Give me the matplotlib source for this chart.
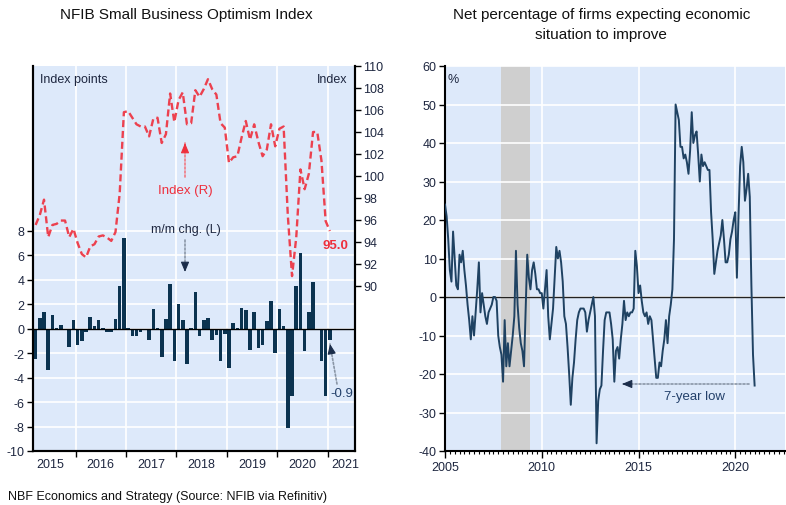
import matplotlib
matplotlib.use("Agg")
import matplotlib.pyplot as plt
import numpy as np

plt.rcParams['font.family'] = ['Liberation Sans', 'DejaVu Sans']

# ---------------- Left chart data (Mar 2015 - Jan 2021, monthly) ----------------
idx_start_year, idx_start_month = 2015, 3
index_vals = [
    95.55, 96.45, 97.85, 94.45, 95.55, 95.65, 95.95, 95.95, 94.45, 95.2,             # 2015 Mar-Dec
    93.9, 92.9, 92.6, 93.6, 93.8, 94.5, 94.6, 94.4, 94.1, 94.9, 98.4, 105.8,         # 2016
    105.9, 105.3, 104.7, 104.5, 104.5, 103.6, 105.2, 105.3, 103.0, 103.8, 107.5, 104.9,  # 2017
    106.9, 107.6, 104.7, 104.8, 107.8, 107.2, 107.9, 108.8, 107.9, 107.4, 104.8, 104.4,  # 2018
    101.2, 101.7, 101.8, 103.5, 105.0, 103.3, 104.7, 103.1, 101.8, 102.4, 104.7, 102.7,  # 2019
    104.3, 104.5, 96.4, 90.9, 94.4, 100.6, 98.8, 100.2, 104.0, 104.0, 101.4, 95.9,      # 2020
    95.0,                                                                              # 2021 Jan
]
mm_change = [
    -2.45, 0.9, 1.4, -3.4, 1.1, 0.1, 0.3, 0.0, -1.5, 0.75,
    -1.3, -1.0, -0.3, 1.0, 0.2, 0.7, 0.1, -0.3, -0.3, 0.8, 3.5, 7.4,
    0.1, -0.6, -0.6, -0.3, 0.0, -0.9, 1.6, 0.1, -2.3, 0.8, 3.7, -2.6,
    2.0, 0.7, -2.9, 0.1, 3.0, -0.6, 0.7, 0.9, -0.9, -0.5, -2.6, -0.4,
    -3.2, 0.5, 0.1, 1.7, 1.5, -1.7, 1.4, -1.6, -1.3, 0.6, 2.3, -2.0,
    1.6, 0.2, -8.1, -5.5, 3.5, 6.2, -1.8, 1.4, 3.8, 0.0, -2.6, -5.5,
    -0.9,
]
left_years = [2015, 2016, 2017, 2018, 2019, 2020, 2021]
left_yticks = [-10, -8, -6, -4, -2, 0, 2, 4, 6, 8]
right_yticks = [90, 92, 94, 96, 98, 100, 102, 104, 106, 108, 110]

# ---------------- Right chart data (Jan 2005 - Jan 2021, monthly) ----------------
exp_start_year = 2005
expect_vals = [
    24, 21, 15, 7, 4, 17, 10, 3, 2, 11, 9, 12,            # 2005
    7, 3, -2, -6, -11, -5, -10, -4, 2, 9, -4, 1,          # 2006
    -2, -5, -7, -4, -3, -2, 0, 0, -1, -10, -13, -15,      # 2007
    -22, -6, -18, -12, -18, -14, -10, -5, 12, -2, -8, -12,  # 2008
    -14, -18, -3, 11, 5, 2, 7, 9, 6, 2, 2, 1,             # 2009
    1, -3, 2, 7, -5, -11, -7, -3, 5, 13, 10, 12,          # 2010
    9, 4, -5, -7, -13, -20, -28, -21, -17, -11, -6, -4,   # 2011
    -3, -3, -3, -4, -9, -6, -4, -2, 0, -5, -38, -27,      # 2012
    -24, -23, -14, -6, -4, -4, -4, -7, -11, -22, -14, -13,  # 2013
    -16, -11, -7, -1, -6, -4, -5, -4, -4, -3, 12, 8,      # 2014
    1, 3, -1, -4, -5, -4, -7, -5, -6, -11, -16, -21,      # 2015
    -21, -17, -18, -14, -11, -6, -12, -5, -2, 2, 15, 50,  # 2016
    48, 46, 39, 39, 36, 37, 35, 32, 38, 48, 40, 42,       # 2017
    43, 37, 30, 37, 34, 35, 34, 33, 33, 22, 15, 6,        # 2018
    9, 12, 14, 16, 20, 15, 9, 9, 11, 15, 17, 20,          # 2019
    22, 5, 21, 34, 39, 35, 25, 28, 32, 26, 3, -15,        # 2020
    -23,                                                  # 2021 Jan
]
recession = (2007 + 11/12, 2009 + 5/12)
exp_xticks = [2005, 2010, 2015, 2020]
exp_yticks = [-40, -30, -20, -10, 0, 10, 20, 30, 40, 50, 60]

# ---------------- styling ----------------
W, H = 786, 506
BG = '#dde9fa'
NAVY = '#0b3350'
RED = '#ee2f3c'
TXT = '#1e2740'

fig = plt.figure(figsize=(W / 100, H / 100), dpi=100)

def fx(px):
    return px / W

def fy(py):
    return 1 - py / H

def P(x, y):
    return (x, H - y)

# ================= LEFT CHART =================
axL = fig.add_axes([fx(33), fy(452), fx(355) - fx(33), fy(67) - fy(452)])
axL.set_facecolor(BG)
n = len(mm_change)
months = np.arange(n) + (idx_start_month - 1)
xs = idx_start_year + months / 12 + 1 / 24
axL.set_xlim(2015 + 2 / 12 - 0.01, 2021.54)
axL.set_ylim(-10, 21.5)

for y in left_yticks:
    axL.axhline(y, color='white', lw=1.2, zorder=1)
for yr in left_years[1:]:
    axL.axvline(yr, color='white', lw=1.2, zorder=1)

axL.bar(xs, mm_change, width=0.85 / 12, color=NAVY, zorder=3, linewidth=0)
axL.axhline(0, color='black', lw=1.0, zorder=4)

axL.set_yticks(left_yticks)
axL.set_yticklabels([str(v) for v in left_yticks])
axL.set_xticks(left_years[1:])
axL.set_xticklabels([])
axL.set_xticks([y + 0.5 for y in left_years[:-1]] + [2021.35], minor=True)
axL.set_xticklabels([str(y) for y in left_years], minor=True)
axL.tick_params(axis='x', which='major', length=4, width=1, direction='out', color='black')
axL.tick_params(axis='x', which='minor', length=0, pad=5, labelsize=9, labelcolor=TXT)
axL.tick_params(axis='y', length=4, width=1, direction='out', labelsize=9, labelcolor=TXT, pad=2)
for s in ['left', 'bottom', 'right']:
    axL.spines[s].set_linewidth(1.5)
    axL.spines[s].set_color('black')
axL.spines['top'].set_visible(False)

axR = axL.twinx()
axR.set_ylim(75, 110)
axR.plot(xs, index_vals, color=RED, lw=1.7, ls=(0, (3, 1.6)), zorder=5, alpha=0.9)
axR.set_yticks(right_yticks)
axR.set_yticklabels([str(v) for v in right_yticks])
axR.tick_params(axis='y', length=4, width=1, direction='out', labelsize=9, labelcolor=TXT, pad=2)
for s in ['left', 'bottom', 'right']:
    axR.spines[s].set_linewidth(1.5)
    axR.spines[s].set_color('black')
axR.spines['top'].set_visible(False)

# texts left chart
fig.text(fx(186), fy(15), 'NFIB Small Business Optimism Index', ha='center', va='center',
         fontsize=11, color='#111111')
fig.text(fx(40), fy(80), 'Index points', ha='left', va='center', fontsize=9, color=TXT)
fig.text(fx(347), fy(80), 'Index', ha='right', va='center', fontsize=9, color=TXT)
fig.text(fx(185), fy(191), 'Index (R)', ha='center', va='center', fontsize=9.5, color=RED)
fig.text(fx(186), fy(230), 'm/m chg. (L)', ha='center', va='center', fontsize=9, color=TXT)
fig.text(fx(335), fy(246), '95.0', ha='center', va='center', fontsize=9.5, color=RED, fontweight='bold')
fig.text(fx(342), fy(394), '-0.9', ha='center', va='center', fontsize=9.5, color='#23406a')

def dotted_arrow(x0, y0, x1, y1, shaft_color, head_color, ax):
    ax.annotate('', xy=P(x1, y1), xytext=P(x0, y0), xycoords='figure pixels',
                textcoords='figure pixels',
                arrowprops=dict(arrowstyle='-', color=shaft_color, lw=1.2,
                                linestyle=(0, (1.2, 1.2)), shrinkA=0, shrinkB=0))
    dx, dy = x1 - x0, y1 - y0
    L = np.hypot(dx, dy)
    hx, hy = x1 - dx / L * 9, y1 - dy / L * 9
    ax.annotate('', xy=P(x1, y1), xytext=P(hx, hy), xycoords='figure pixels',
                textcoords='figure pixels',
                arrowprops=dict(arrowstyle='-|>,head_length=0.6,head_width=0.25',
                                color=head_color, lw=0.8, shrinkA=0, shrinkB=0))

dotted_arrow(185, 178, 185, 144, '#f07a84', RED, axR)
dotted_arrow(185, 241, 185, 273, '#8a96a6', '#1b2d4a', axR)
dotted_arrow(337, 385, 330, 345, '#8a96a6', '#1b2d4a', axR)

# ================= RIGHT CHART =================
ax3 = fig.add_axes([fx(445), fy(452), fx(785) - fx(445), fy(67) - fy(452)])
ax3.set_facecolor(BG)
m = np.arange(len(expect_vals))
xe = exp_start_year + m / 12
ax3.set_xlim(2005, 2022.57)
ax3.set_ylim(-40, 60)
ax3.axvspan(recession[0], recession[1], color='#cfcfcf', zorder=1, lw=0)
for y in exp_yticks:
    ax3.axhline(y, color='white', lw=1.2, zorder=1.5)
for yr in exp_xticks[1:]:
    ax3.axvline(yr, color='white', lw=1.2, zorder=1.5)
ax3.axhline(0, color='#222222', lw=1.0, zorder=2)
ax3.plot(xe, expect_vals, color='#1f4262', lw=1.4, zorder=3)

ax3.set_yticks(exp_yticks)
ax3.set_yticklabels([str(v) for v in exp_yticks])
ax3.set_xticks(exp_xticks)
ax3.set_xticklabels([str(v) for v in exp_xticks])
ax3.set_xticks(np.arange(2005, 2022.6, 0.25), minor=True)
ax3.tick_params(axis='x', which='major', length=5, width=1, direction='out', labelsize=9,
                labelcolor=TXT, pad=2)
ax3.tick_params(axis='x', which='minor', length=2.5, width=0.8, direction='out')
ax3.tick_params(axis='y', length=4, width=1, direction='out', labelsize=9, labelcolor=TXT, pad=2)
for s in ['left', 'bottom']:
    ax3.spines[s].set_linewidth(1.5)
    ax3.spines[s].set_color('black')
ax3.spines['top'].set_visible(False)
ax3.spines['right'].set_visible(False)

fig.text(fx(602), fy(15), 'Net percentage of firms expecting economic', ha='center', va='center',
         fontsize=11, color='#111111')
fig.text(fx(601), fy(35), 'situation to improve', ha='center', va='center',
         fontsize=11, color='#111111')
fig.text(fx(447), fy(80), '%', ha='left', va='center', fontsize=9, color=TXT)
fig.text(fx(695), fy(397), '7-year low', ha='center', va='center', fontsize=9.5, color='#23406a')
dotted_arrow(749, 385, 622, 385, '#8a96a6', '#1b2d4a', ax3)

fig.text(fx(8), fy(497), 'NBF Economics and Strategy (Source: NFIB via Refinitiv)', ha='left',
         va='center', fontsize=9, color='#111111')

fig.savefig('out.png', dpi=100)
